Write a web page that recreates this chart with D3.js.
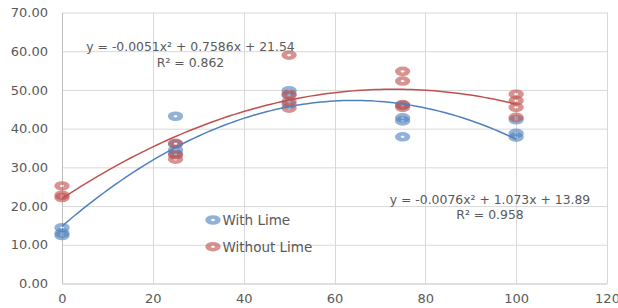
<!DOCTYPE html>
<html><head><meta charset="utf-8">
<script src="https://cdn.jsdelivr.net/npm/d3@7"></script>
<style>body{margin:0;background:#fff}svg{display:block}text{font-family:"DejaVu Sans",sans-serif}</style>
</head><body><svg id="c" width="618" height="308"></svg>
<script>
const xTicks = [0, 20, 40, 60, 80, 100, 120];
const yTicks = [0, 10, 20, 30, 40, 50, 60, 70];
const seriesNames = ["With Lime", "Without Lime"];
const withLimeX = [0,0,0, 25,25,25,25, 50,50,50, 75,75,75,75, 100,100,100];
const withLimeY = [14.4,13.0,12.4, 43.2,36.0,34.5,33.5, 49.8,48.6,46.3, 46.0,42.8,42.0,37.9, 42.3,38.8,37.8];
const withoutLimeX = [0,0,0, 25,25,25, 50,50,50,50, 75,75,75,75, 100,100,100,100];
const withoutLimeY = [25.2,22.8,22.2, 36.2,33.2,32.1, 59.0,48.9,47.0,45.3, 54.8,52.3,46.2,45.5, 48.9,47.2,45.5,42.9];
const eqTexts = [["y = -0.0076x² + 1.073x + 13.89", "R² = 0.958"], ["y = -0.0051x² + 0.7586x + 21.54", "R² = 0.862"]];

const svg = d3.select("#c");
const x = d3.scaleLinear().domain([0,120]).range([62,607]);
const y = d3.scaleLinear().domain([0,70]).range([283.5,12.5]);
const lineCol = ["#4F81BD", "#C0504D"];

// gridlines
svg.append("g").selectAll("line").data(yTicks.slice(1)).join("line")
  .attr("x1", x(0)).attr("x2", x(120)).attr("y1", d=>y(d)+0.5).attr("y2", d=>y(d)+0.5)
  .attr("stroke", "#d9d9d9").attr("stroke-width", 1);
svg.append("g").selectAll("line").data(xTicks.slice(1)).join("line")
  .attr("x1", d=>Math.round(x(d))+0.5).attr("x2", d=>Math.round(x(d))+0.5).attr("y1", y(70)).attr("y2", y(0))
  .attr("stroke", "#d9d9d9").attr("stroke-width", 1);

// axes
const xAxis = d3.axisBottom(x).tickValues(xTicks).tickSize(0).tickPadding(10).tickFormat(d3.format("d"));
const gx = svg.append("g").attr("transform", `translate(0,${y(0)})`).call(xAxis);
gx.select(".domain").attr("stroke", "#bfbfbf");
gx.selectAll("text").attr("fill", "#595959").style("font-size", "13px").attr("font-family", "DejaVu Sans");
const yAxis = d3.axisLeft(y).tickValues(yTicks).tickSize(0).tickPadding(14).tickFormat(d3.format(".2f"));
const gy = svg.append("g").attr("transform", `translate(${x(0)},0)`).call(yAxis);
gy.select(".domain").attr("stroke", "#bfbfbf");
gy.selectAll("text").attr("fill", "#595959").style("font-size", "13px").attr("font-family", "DejaVu Sans");

// least squares quadratic fit
function quadFit(xs, ys) {
  let S = Array(5).fill(0), T = Array(3).fill(0);
  xs.forEach((xv, i) => {
    for (let k = 0; k < 5; k++) S[k] += Math.pow(xv, k);
    for (let k = 0; k < 3; k++) T[k] += ys[i] * Math.pow(xv, k);
  });
  const A = [[S[0],S[1],S[2],T[0]],[S[1],S[2],S[3],T[1]],[S[2],S[3],S[4],T[2]]];
  for (let i = 0; i < 3; i++) {
    for (let j = i+1; j < 3; j++) {
      const f = A[j][i]/A[i][i];
      for (let k = i; k < 4; k++) A[j][k] -= f*A[i][k];
    }
  }
  const c = [0,0,0];
  for (let i = 2; i >= 0; i--) {
    let s = A[i][3];
    for (let k = i+1; k < 3; k++) s -= A[i][k]*c[k];
    c[i] = s/A[i][i];
  }
  return c;
}

const series = [
  {xs: withLimeX, ys: withLimeY},
  {xs: withoutLimeX, ys: withoutLimeY}
];
const markerCol = ["#4F81BD", "#C0504D"];

function ring(g, cx, cy, col) {
  g.append("circle").attr("r", 3)
    .attr("transform", `translate(${cx},${cy}) scale(1.6,1)`)
    .attr("fill", "none").attr("stroke", col).attr("stroke-width", 3.6).attr("stroke-opacity", 0.62);
}

series.forEach((s, si) => {
  const g = svg.append("g");
  s.xs.forEach((xv, i) => ring(g, x(xv), y(s.ys[i]), markerCol[si]));
});

series.forEach((s, si) => {
  const c = quadFit(s.xs, s.ys);
  const pts = d3.range(0, 100.01, 1).map(t => [t, c[0] + c[1]*t + c[2]*t*t]);
  svg.append("path").datum(pts)
    .attr("d", d3.line().x(d=>x(d[0])).y(d=>y(d[1])))
    .attr("fill", "none").attr("stroke", lineCol[si]).attr("stroke-width", 1.5);
});

// equations
const eqPos = [[490, 204, 219], [190.5, 51, 66.5]];
eqTexts.forEach((t, i) => {
  const [cx, y1, y2] = eqPos[i];
  svg.append("text").attr("x", cx).attr("y", y1).attr("text-anchor", "middle")
    .attr("fill", "#595959").style("font-size", "12.4px").text(t[0]);
  svg.append("text").attr("x", cx).attr("y", y2).attr("text-anchor", "middle")
    .attr("fill", "#595959").style("font-size", "12.4px").text(t[1]);
});

// legend
const leg = svg.append("g");
seriesNames.forEach((n, i) => {
  const ly = 220 + i*26.7;
  ring(leg, 213, ly, markerCol[i]);
  leg.append("text").attr("x", 222.5).attr("y", ly + 5).attr("fill", "#595959")
    .style("font-size", "13.5px").text(n);
});
</script></body></html>
